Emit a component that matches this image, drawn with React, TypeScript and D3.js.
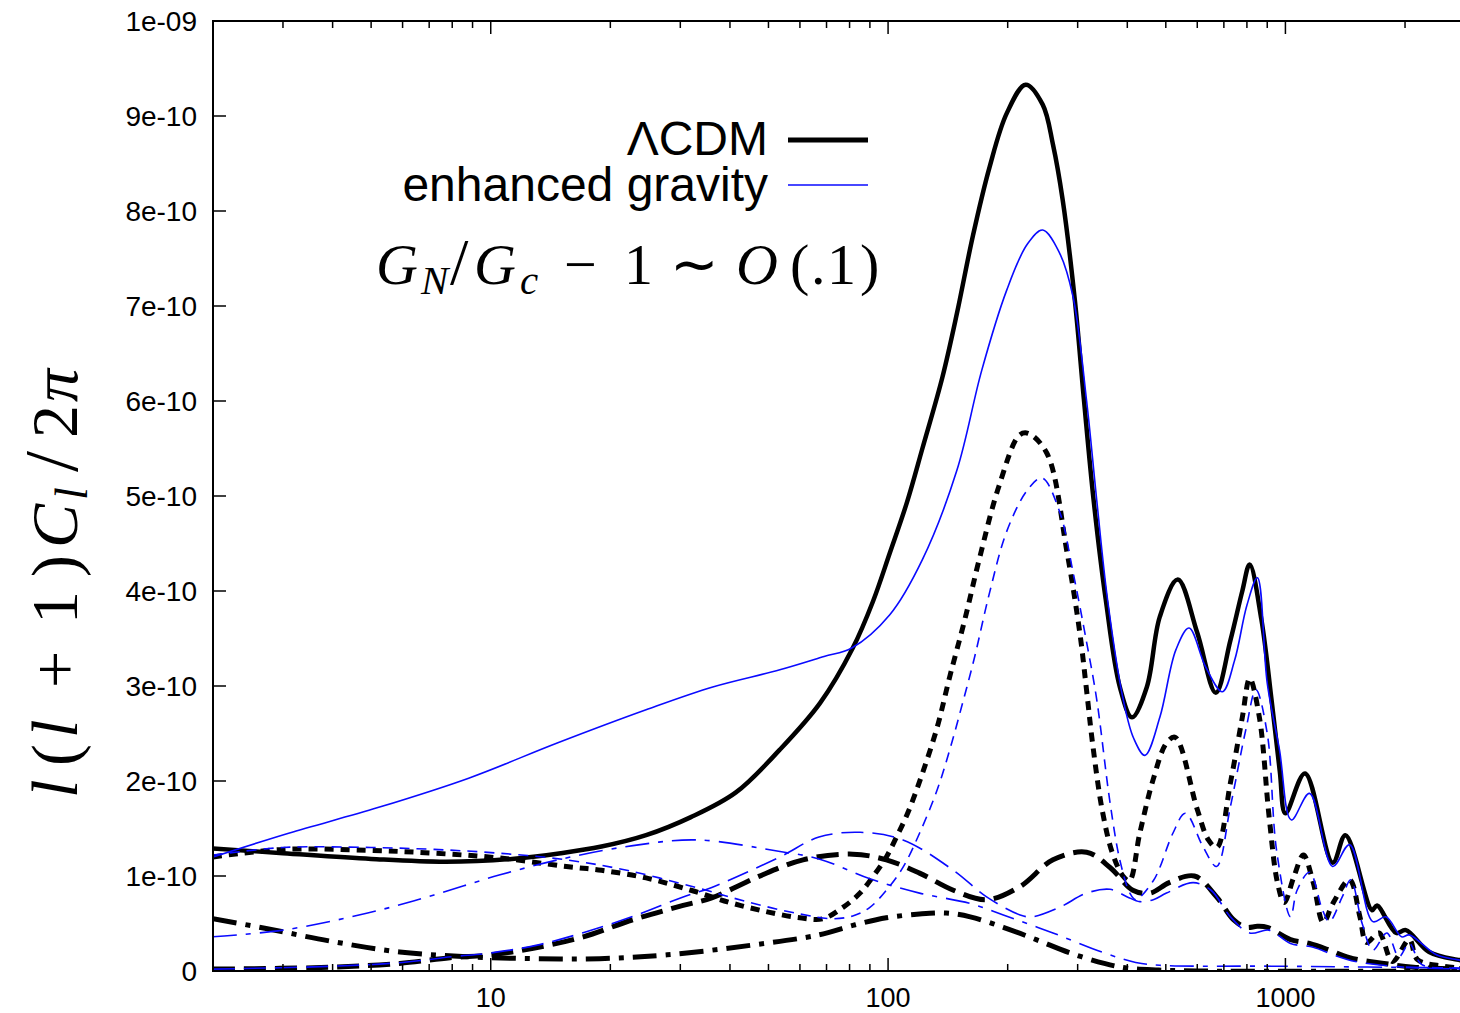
import React from 'react';
import * as d3 from 'd3';

// ---------- data (values in units of 1e-10) ----------
const xDomain: [number, number] = [2, 3000];
const yDomain: [number, number] = [0, 10];

const yTickValues = [0, 1, 2, 3, 4, 5, 6, 7, 8, 9, 10];
const yTickLabels = ['0', '1e-10', '2e-10', '3e-10', '4e-10', '5e-10', '6e-10', '7e-10', '8e-10', '9e-10', '1e-09'];
const xMajorTicks = [10, 100, 1000];
const xMajorLabels = ['10', '100', '1000'];
const xMinorTicks = [2, 3, 4, 5, 6, 7, 8, 9, 20, 30, 40, 50, 60, 70, 80, 90, 200, 300, 400, 500, 600, 700, 800, 900, 2000, 3000];

const lcdmTotal: [number, number][] = [
  [2, 1.29], [3, 1.24], [5, 1.18], [7.7, 1.15], [11.3, 1.18], [15, 1.24], [19, 1.31], [24.6, 1.43], [31.9, 1.62],
  [41.4, 1.88], [53.4, 2.33], [67.4, 2.82], [81.5, 3.4], [91.6, 3.89], [101, 4.4], [111.5, 4.93], [122, 5.5],
  [137, 6.25], [149, 6.92], [163.5, 7.74], [180, 8.46], [199, 9.03], [222, 9.33], [245, 9.12], [260, 8.7],
  [275, 8.12], [295, 7.07], [311, 6.02], [329, 4.96], [353, 3.91], [383, 2.99], [411, 2.67], [448, 2.99],
  [483, 3.73], [536, 4.12], [600, 3.56], [668, 2.93], [727, 3.48], [779, 4.0], [813, 4.28], [870, 3.7],
  [923, 2.85], [968, 2.1], [1000, 1.66], [1120, 2.08], [1315, 1.14], [1416, 1.43], [1652, 0.64], [1700, 0.69],
  [1900, 0.4], [2010, 0.43], [2300, 0.2], [2700, 0.12], [3000, 0.1],
];

const enhancedTotal: [number, number][] = [
  [2, 1.2], [3.1, 1.45], [5.2, 1.72], [8.8, 2.03], [14.7, 2.4], [24.6, 2.75], [36.2, 2.99], [53.4, 3.17], [69, 3.31],
  [81, 3.4], [101, 3.75], [122, 4.33], [149, 5.27], [172, 6.32], [199, 7.17], [224, 7.65], [245, 7.8], [270, 7.56],
  [292, 7.1], [316, 6.0], [335, 4.96], [357, 3.9], [391, 2.85], [415, 2.45], [443, 2.27], [483, 2.67], [530, 3.38],
  [572, 3.61], [630, 3.2], [694, 2.94], [745, 3.27], [800, 3.85], [850, 4.14], [900, 3.03], [966, 2.33], [1035, 1.59],
  [1150, 1.87], [1315, 1.1], [1450, 1.33], [1660, 0.52], [1790, 0.57], [1960, 0.36], [2050, 0.38], [2400, 0.17],
  [2700, 0.12], [3000, 0.1],
];

const lcdmDotted: [number, number][] = [
  [2, 1.2], [3, 1.28], [4.9, 1.27], [7.2, 1.24], [10.5, 1.19], [15.5, 1.1], [19, 1.06], [24.6, 0.98], [31.9, 0.85],
  [40, 0.72], [50, 0.62], [60, 0.56], [68.5, 0.55], [77, 0.67], [85, 0.82], [91.5, 0.99], [99, 1.2], [105, 1.41],
  [112, 1.66], [122, 2.08], [133, 2.57], [143, 3.1], [156, 3.7], [170, 4.35], [190, 5.1], [214, 5.64], [225, 5.66],
  [251, 5.45], [282, 4.41], [304, 3.55], [316, 2.95], [327, 2.4], [346, 1.69], [367, 1.24], [390, 1.0], [405, 0.95],
  [430, 1.45], [465, 2.02], [502, 2.4], [528, 2.46], [600, 1.7], [640, 1.38], [672, 1.3], [727, 1.98], [779, 2.67],
  [813, 3.08], [860, 2.67], [910, 1.62], [955, 0.93], [993, 0.72], [1050, 0.99], [1110, 1.22], [1175, 0.93],
  [1245, 0.51], [1320, 0.72], [1450, 0.96], [1540, 0.57], [1600, 0.3], [1720, 0.4], [1860, 0.1], [2050, 0.33],
  [2150, 0.12], [2500, 0.05], [3000, 0.02],
];

const enhancedDotted: [number, number][] = [
  [2, 1.22], [3, 1.3], [5, 1.3], [7.2, 1.28], [10.5, 1.24], [15.5, 1.17], [22, 1.06], [32.8, 0.88], [45, 0.72],
  [60, 0.6], [72.5, 0.55], [81.5, 0.58], [90, 0.67], [99, 0.85], [109, 1.09], [120, 1.45], [133, 1.91], [143, 2.33],
  [154, 2.82], [165, 3.3], [180, 3.98], [199, 4.63], [224, 5.06], [244, 5.19], [270, 4.84], [292, 4.2], [316, 3.46],
  [335, 2.86], [362, 1.77], [383, 1.17], [406, 0.82], [420, 0.75], [465, 0.95], [483, 1.09], [521, 1.45], [560, 1.66],
  [620, 1.31], [671, 1.1], [727, 1.73], [795, 2.54], [843, 2.96], [900, 2.5], [950, 1.27], [1030, 0.57], [1070, 0.85],
  [1150, 1.04], [1240, 0.64], [1290, 0.52], [1390, 0.78], [1460, 0.96], [1560, 0.5], [1660, 0.22], [1800, 0.4],
  [1930, 0.15], [2050, 0.29], [2200, 0.07], [2600, 0.03], [3000, 0.02],
];

const lcdmDashed: [number, number][] = [
  [2, 0.02], [4, 0.04], [5.9, 0.08], [7.9, 0.14], [10, 0.17], [12.8, 0.24], [17.1, 0.36], [22.8, 0.54], [30.5, 0.69],
  [36, 0.77], [46.9, 0.99], [61.1, 1.17], [81.5, 1.23], [99, 1.17], [120, 1.03], [146, 0.85], [177, 0.75], [215, 0.89],
  [260, 1.17], [316, 1.25], [362, 1.09], [413, 0.85], [456, 0.82], [510, 0.93], [590, 1.0], [671, 0.78], [740, 0.54],
  [795, 0.46], [850, 0.47], [900, 0.46], [1030, 0.33], [1150, 0.29], [1290, 0.22], [1450, 0.14], [1770, 0.08],
  [2100, 0.04], [3000, 0.02],
];

const enhancedDashed: [number, number][] = [
  [2, 0.02], [4, 0.05], [6, 0.09], [8, 0.15], [10, 0.19], [13, 0.27], [17, 0.4], [23, 0.58], [30.5, 0.78], [36, 0.88],
  [53.4, 1.2], [67, 1.41], [85, 1.46], [109, 1.38], [146, 1.06], [177, 0.78], [215, 0.59], [230, 0.57], [270, 0.67],
  [316, 0.82], [362, 0.86], [400, 0.78], [430, 0.73], [465, 0.75], [502, 0.82], [586, 0.93], [650, 0.85], [727, 0.57],
  [813, 0.4], [910, 0.43], [1030, 0.29], [1175, 0.25], [1320, 0.17], [1500, 0.1], [2000, 0.04], [3000, 0.02],
];

const lcdmDashDot: [number, number][] = [
  [2, 0.55], [2.7, 0.45], [4, 0.31], [5.9, 0.2], [8.7, 0.15], [12.8, 0.13], [18.8, 0.13], [27.8, 0.17], [45, 0.27],
  [67, 0.38], [81.5, 0.48], [99, 0.56], [120, 0.6], [140, 0.61], [161, 0.57], [195, 0.46], [236, 0.33], [287, 0.19],
  [350, 0.08], [400, 0.03], [480, 0.01], [600, 0.0], [3000, 0.0],
];

const enhancedDashDot: [number, number][] = [
  [2, 0.36], [3, 0.43], [4.9, 0.61], [7.2, 0.8], [10.5, 1.01], [15.5, 1.19], [22.8, 1.32], [33, 1.38], [53, 1.26],
  [67, 1.18], [90, 0.97], [120, 0.82], [161, 0.71], [195, 0.59], [260, 0.4], [350, 0.19], [420, 0.09], [483, 0.06],
  [1000, 0.05], [3000, 0.03],
];

// ---------- layout ----------
const W = 1460;
const H = 1013;
const PL = 213, PR = 1475, PT = 21, PB = 971;

const BLUE = '#0a0aff';

const series = [
  { data: lcdmTotal, color: '#000', width: 4.5, dash: 'none' },
  { data: lcdmDotted, color: '#000', width: 5, dash: '9,7' },
  { data: lcdmDashed, color: '#000', width: 5, dash: '22,9' },
  { data: lcdmDashDot, color: '#000', width: 5, dash: '24,9,5,9' },
  { data: enhancedTotal, color: BLUE, width: 1.6, dash: 'none' },
  { data: enhancedDotted, color: BLUE, width: 1.6, dash: '10,7' },
  { data: enhancedDashed, color: BLUE, width: 1.6, dash: '22,9' },
  { data: enhancedDashDot, color: BLUE, width: 1.6, dash: '24,9,5,9' },
];

export default function App() {
  const x = d3.scaleLog().domain(xDomain).range([PL, PR]);
  const y = d3.scaleLinear().domain(yDomain).range([PB, PT]);
  const line = d3
    .line<[number, number]>()
    .x((d) => x(d[0]))
    .y((d) => y(d[1]))
    .curve(d3.curveCatmullRom.alpha(0.5));

  const sans = '"Liberation Sans", Arial, Helvetica, sans-serif';
  const serif = '"Liberation Serif", "Times New Roman", serif';

  return (
    <svg
      width={W}
      height={H}
      viewBox={`0 0 ${W} ${H}`}
      style={{ position: 'absolute', left: 0, top: 0, background: '#fff' }}
    >
      <defs>
        <clipPath id="plotclip">
          <rect x={PL} y={PT} width={PR - PL} height={PB - PT} />
        </clipPath>
      </defs>
      <rect x={0} y={0} width={W} height={H} fill="#fff" />

      {/* curves */}
      <g clipPath="url(#plotclip)" fill="none">
        {series.map((s, i) => (
          <path
            key={i}
            d={line(s.data) || ''}
            stroke={s.color}
            strokeWidth={s.width}
            strokeDasharray={s.dash}
            strokeLinecap="butt"
            strokeLinejoin="round"
          />
        ))}
      </g>

      {/* frame */}
      <rect x={PL} y={PT} width={PR - PL} height={PB - PT} fill="none" stroke="#000" strokeWidth={2} />

      {/* y ticks */}
      {yTickValues.map((v, i) => (
        <g key={'y' + i}>
          <line x1={PL} x2={PL + 13} y1={y(v)} y2={y(v)} stroke="#000" strokeWidth={1.5} />
          <text
            x={PL - 16}
            y={y(v)}
            textAnchor="end"
            dominantBaseline="central"
            fontFamily={sans}
            fontSize={28}
            fill="#000"
          >
            {yTickLabels[i]}
          </text>
        </g>
      ))}

      {/* x ticks */}
      {xMajorTicks.map((v, i) => (
        <g key={'xm' + i}>
          <line x1={x(v)} x2={x(v)} y1={PB} y2={PB - 13} stroke="#000" strokeWidth={1.5} />
          <line x1={x(v)} x2={x(v)} y1={PT} y2={PT + 13} stroke="#000" strokeWidth={1.5} />
          <text x={x(v)} y={1007} textAnchor="middle" fontFamily={sans} fontSize={27} fill="#000">
            {xMajorLabels[i]}
          </text>
        </g>
      ))}
      {xMinorTicks.map((v, i) => (
        <g key={'xn' + i}>
          <line x1={x(v)} x2={x(v)} y1={PB} y2={PB - 7} stroke="#000" strokeWidth={1.5} />
          <line x1={x(v)} x2={x(v)} y1={PT} y2={PT + 7} stroke="#000" strokeWidth={1.5} />
        </g>
      ))}

      {/* legend */}
      <text x={768} y={155} textAnchor="end" fontFamily={sans} fontSize={48} fill="#000">
        ΛCDM
      </text>
      <line x1={788} x2={868} y1={140} y2={140} stroke="#000" strokeWidth={5} />
      <text x={768} y={201} textAnchor="end" fontFamily={sans} fontSize={48} fill="#000">
        enhanced gravity
      </text>
      <line x1={788} x2={868} y1={185} y2={185} stroke={BLUE} strokeWidth={1.6} />

      {/* annotation */}
      <text y={284} fontFamily={serif} fontSize={58} fill="#000">
        <tspan x={376} fontStyle="italic">G</tspan>
        <tspan x={421} dy={10} fontStyle="italic" fontSize={41}>N</tspan>
        <tspan x={450} dy={-10} fontSize={66}>/</tspan>
        <tspan x={474} fontStyle="italic">G</tspan>
        <tspan x={520} dy={10} fontStyle="italic" fontSize={41}>c</tspan>
        <tspan x={564} dy={-10}>{'\u2212'}</tspan>
        <tspan x={624}>1</tspan>
        <tspan x={670}>{'\u223C'}</tspan>
        <tspan x={736} fontStyle="italic">O</tspan>
        <tspan x={790}>(</tspan>
        <tspan x={811}>.</tspan>
        <tspan x={827}>1</tspan>
        <tspan x={860}>)</tspan>
      </text>

      {/* y-axis label (rotated) */}
      <text transform="translate(77, 0) rotate(-90)" fontFamily={serif} fontSize={66} fill="#000">
        <tspan x={-798} fontStyle="italic">l</tspan>
        <tspan x={-766}>(</tspan>
        <tspan x={-738} fontStyle="italic">l</tspan>
        <tspan x={-688}>+</tspan>
        <tspan x={-624}>1</tspan>
        <tspan x={-577}>)</tspan>
        <tspan x={-548} fontStyle="italic">C</tspan>
        <tspan x={-500} dy={10} fontStyle="italic" fontSize={46}>l</tspan>
        <tspan x={-472} dy={-10} fontSize={76}>/</tspan>
        <tspan x={-438}>2</tspan>
        <tspan x={-402} fontStyle="italic">π</tspan>
      </text>
    </svg>
  );
}
